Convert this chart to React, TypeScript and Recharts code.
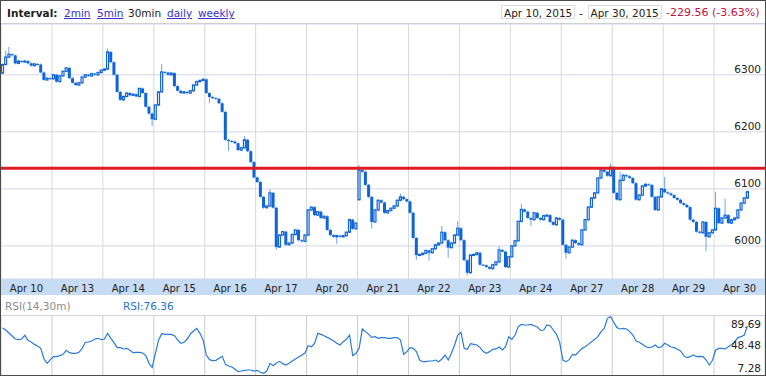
import React from "react";
import {
  ComposedChart,
  LineChart,
  Bar,
  Line,
  XAxis,
  YAxis,
  CartesianGrid,
  ReferenceLine,
} from "recharts";

const dayLabels = [
  "Apr 10", "Apr 13", "Apr 14", "Apr 15", "Apr 16", "Apr 17", "Apr 20", "Apr 21",
  "Apr 22", "Apr 23", "Apr 24", "Apr 27", "Apr 28", "Apr 29", "Apr 30",
];
const barsPerDay = 16;

// 30 min closes, one list per session
const closesApr10 = [6318, 6331, 6336, 6334, 6320, 6324, 6323, 6324, 6320, 6316, 6319, 6318, 6304, 6291, 6294, 6293];
const closesApr13 = [6300, 6288, 6298, 6306, 6312, 6294, 6286, 6282, 6286, 6296, 6300, 6298, 6302, 6300, 6304, 6308];
const closesApr14 = [6310, 6340, 6322, 6300, 6270, 6256, 6262, 6268, 6264, 6266, 6262, 6276, 6268, 6244, 6232, 6222];
const closesApr15 = [6247, 6270, 6305, 6304, 6300, 6303, 6280, 6272, 6268, 6270, 6268, 6272, 6282, 6288, 6290, 6292];
const closesApr16 = [6268, 6261, 6259, 6258, 6250, 6235, 6186, 6184, 6183, 6180, 6168, 6172, 6186, 6166, 6147, 6120];
const closesApr17 = [6112, 6086, 6067, 6070, 6093, 6067, 5998, 6019, 6025, 6002, 6005, 6020, 6028, 6010, 6008, 6019];
const closesApr20 = [6063, 6068, 6054, 6060, 6049, 6052, 6028, 6019, 6016, 6018, 6016, 6018, 6024, 6046, 6030, 6040];
const closesApr21 = [6133, 6130, 6107, 6086, 6042, 6063, 6080, 6076, 6058, 6062, 6066, 6070, 6080, 6086, 6082, 6078];
const closesApr22 = [6058, 6014, 5984, 5985, 5987, 5992, 5988, 5995, 6002, 6005, 6024, 6010, 5997, 6005, 6019, 6031];
const closesApr23 = [6010, 5975, 5953, 5984, 5985, 5988, 5967, 5966, 5963, 5960, 5967, 5972, 5993, 5990, 5963, 5981];
const closesApr24 = [6000, 6009, 6043, 6064, 6060, 6049, 6046, 6058, 6049, 6046, 6053, 6054, 6042, 6037, 6049, 6046];
const closesApr27 = [6002, 5988, 5998, 6010, 6005, 6002, 6028, 6046, 6068, 6084, 6093, 6119, 6133, 6130, 6123, 6138];
const closesApr28 = [6093, 6081, 6115, 6124, 6122, 6119, 6110, 6081, 6089, 6105, 6108, 6107, 6086, 6063, 6086, 6100];
const closesApr29 = [6094, 6092, 6089, 6084, 6081, 6075, 6072, 6068, 6046, 6042, 6025, 6023, 6042, 6016, 6023, 6028];
const closesApr30 = [6066, 6040, 6049, 6054, 6040, 6046, 6049, 6063, 6075, 6084, 6095];

const dayCloses = [
  closesApr10, closesApr13, closesApr14, closesApr15, closesApr16, closesApr17, closesApr20,
  closesApr21, closesApr22, closesApr23, closesApr24, closesApr27, closesApr28, closesApr29, closesApr30,
];

const firstOpen = 6303;
// bars that opened away from the previous close: [bar, open]
const gapOpens = [[112, 6081]];
// visible wicks: [bar, high, low]
const wicks = [
  [1, 6340, null], [2, 6347, null], [33, 6344, null], [47, null, 6212], [50, 6317, null],
  [65, null, 6252], [71, null, 6168], [76, 6191, null], [84, 6098, null], [86, null, 5995],
  [105, null, 6005], [112, 6140, null], [116, null, 6032], [125, 6090, null], [130, null, 5977],
  [134, null, 5976], [138, 6033, null], [140, null, 5981], [143, 6042, null], [146, null, 5950],
  [156, 5998, null], [163, 6072, null], [166, null, 6037], [177, null, 5979], [191, 6142, null],
  [194, 6128, null], [208, 6119, null], [221, null, 5993], [224, 6093, null], [227, 6081, null],
];

// RSI(14) per bar
const rsiApr10 = [73.2, 70.3, 65.9, 61.6, 57.2, 56.2, 57.2, 62.5, 55.3, 52.8, 49.4, 47.0, 43.6, 28.1, 21.8, 27.1];
const rsiApr13 = [31.5, 31.5, 33.0, 34.9, 40.7, 37.3, 36.4, 36.4, 37.8, 43.6, 52.4, 52.8, 54.3, 57.2, 58.2, 56.2];
const rsiApr14 = [57.2, 65.5, 58.2, 51.9, 44.6, 44.6, 42.7, 43.6, 40.7, 37.3, 37.8, 37.8, 36.8, 33.0, 21.8, 16.0];
const rsiApr15 = [36.4, 55.7, 65.0, 64.0, 64.0, 64.0, 62.0, 55.7, 50.9, 52.4, 57.2, 64.5, 68.8, 72.7, 65.5, 55.7];
const rsiApr16 = [33.9, 27.1, 25.7, 26.2, 29.1, 32.0, 20.3, 17.9, 16.5, 13.6, 9.7, 10.6, 11.6, 12.1, 12.1, 10.6];
const rsiApr17 = [11.6, 8.7, 7.28, 10.6, 21.8, 18.4, 22.3, 24.7, 21.3, 19.4, 21.8, 25.2, 28.1, 31.0, 33.9, 36.8];
const rsiApr20 = [47.5, 46.0, 50.9, 65.5, 64.0, 62.0, 59.6, 57.2, 54.3, 50.9, 48.5, 53.3, 56.7, 63.0, 33.0, 36.4];
const rsiApr21 = [43.6, 71.8, 67.9, 64.0, 59.6, 60.6, 58.2, 59.2, 59.2, 58.2, 58.2, 59.2, 59.2, 55.7, 34.9, 38.8];
const rsiApr22 = [44.6, 43.6, 38.8, 26.6, 24.2, 24.2, 25.2, 25.2, 26.6, 24.2, 28.1, 33.9, 26.6, 36.4, 48.5, 63.0];
const rsiApr23 = [66.9, 43.6, 42.2, 50.4, 49.4, 48.5, 44.6, 38.8, 36.4, 38.8, 42.2, 42.7, 45.6, 41.2, 46.0, 60.6];
const rsiApr24 = [56.7, 63.0, 75.2, 78.5, 77.6, 77.6, 78.5, 76.6, 74.7, 69.8, 70.3, 77.6, 76.6, 70.3, 64.0, 52.4];
const rsiApr27 = [26.6, 24.2, 27.1, 34.9, 33.9, 38.8, 43.6, 46.0, 49.4, 53.3, 56.7, 60.6, 67.9, 72.7, 87.3, 89.69];
const rsiApr28 = [81.5, 73.7, 71.8, 72.7, 71.8, 67.9, 63.0, 54.3, 52.4, 49.4, 46.0, 44.6, 45.6, 48.5, 44.6, 46.0];
const rsiApr29 = [50.9, 48.5, 45.6, 44.6, 42.2, 39.7, 33.0, 30.0, 31.5, 33.9, 31.5, 32.0, 31.5, 26.6, 19.4, 26.2];
const rsiApr30 = [41.2, 43.6, 43.6, 42.7, 46.0, 49.4, 53.3, 59.2, 60.6, 63.0, 76.36];

const dayRsi = [
  rsiApr10, rsiApr13, rsiApr14, rsiApr15, rsiApr16, rsiApr17, rsiApr20,
  rsiApr21, rsiApr22, rsiApr23, rsiApr24, rsiApr27, rsiApr28, rsiApr29, rsiApr30,
];

const priceTicks = [6000, 6100, 6200, 6300];
const priceDomain = [5942, 6389];
const resistance = 6136;
const rsiTicks = [7.28, 48.48, 89.69];
const rsiDomain = [4.8, 90.7];

const BLUE = "#0f64d8";
const WICK = "#6fa4ea";
const FONT = "'DejaVu Sans', Verdana, sans-serif";

const slots = dayLabels.length * barsPerDay;
const dayStartSlots = dayLabels.map((_, d) => d * barsPerDay);
const dayMidSlots = dayLabels.map((_, d) => (d + 0.5) * barsPerDay);

type Row = { i: number; t: number; o?: number; h?: number; l?: number; c?: number; r?: number };
const rows: Row[] = [];
let prevClose = firstOpen;
dayCloses.forEach((day, d) => {
  for (let s = 0; s < barsPerDay; s++) {
    const i = d * barsPerDay + s;
    const c = day[s];
    if (c === undefined) {
      rows.push({ i, t: i + 0.5 });
      continue;
    }
    const gap = gapOpens.find((g) => g[0] === i);
    const o = gap ? gap[1] : prevClose;
    const w = wicks.find((k) => k[0] === i);
    const hi = w && w[1] != null ? (w[1] as number) : -Infinity;
    const lo = w && w[2] != null ? (w[2] as number) : Infinity;
    rows.push({ i, t: i + 0.5, o, c, h: Math.max(o, c, hi), l: Math.min(o, c, lo), r: dayRsi[d][s] });
    prevClose = c;
  }
});
const rsiRows = rows.filter((r) => r.r !== undefined);
const lastRsi = rsiRows[rsiRows.length - 1].r as number;

function Candle(props: any) {
  const { x, y, width, height, payload } = props;
  if (!payload || payload.c == null) return null;
  const { o, h, l, c } = payload;
  const cx = x + width / 2;
  const span = h - l;
  const py = (v: number) => (span > 0 ? y + ((h - v) / span) * height : y);
  const top = py(Math.max(o, c));
  const bot = py(Math.min(o, c));
  const body = Math.max(bot - top, 1);
  return (
    <g>
      <line x1={cx} x2={cx} y1={y - 1} y2={y + height + 1} stroke={WICK} strokeWidth={1} />
      {c >= o ? (
        <rect x={cx - 1} y={top} width={2} height={body} fill="#fff" stroke={BLUE} strokeWidth={1.2} />
      ) : (
        <rect x={cx - 1.5} y={top} width={3} height={body} fill={BLUE} />
      )}
    </g>
  );
}

const textStyle: React.CSSProperties = {
  position: "absolute",
  fontFamily: FONT,
  fontSize: 10.5,
  lineHeight: "12px",
  whiteSpace: "nowrap",
  color: "#222",
};
const linkStyle: React.CSSProperties = { ...textStyle, color: "#3333cc", textDecoration: "underline" };
const boxStyle: React.CSSProperties = {
  position: "absolute",
  top: 4,
  width: 74,
  height: 14,
  boxSizing: "border-box",
  border: "1px solid #dcdcdc",
};

export default function App() {
  return (
    <div
      style={{
        position: "absolute",
        left: 0,
        top: 0,
        width: 766,
        height: 376,
        boxSizing: "border-box",
        border: "1px solid #4a4a4a",
        background: "#fff",
        overflow: "hidden",
      }}
    >
      {/* toolbar */}
      <div style={{ position: "absolute", left: 0, top: 0, width: 764, height: 22, borderBottom: "1px solid #cfcfcf" }} />
      <span style={{ ...textStyle, left: 6, top: 6, fontWeight: "bold" }}>Interval:</span>
      <span style={{ ...linkStyle, left: 63, top: 6 }}>2min</span>
      <span style={{ ...linkStyle, left: 96, top: 6 }}>5min</span>
      <span style={{ ...textStyle, left: 127, top: 6 }}>30min</span>
      <span style={{ ...linkStyle, left: 166, top: 6 }}>daily</span>
      <span style={{ ...linkStyle, left: 197, top: 6 }}>weekly</span>
      <div style={{ ...boxStyle, left: 500 }} />
      <span style={{ ...textStyle, left: 503, top: 6 }}>Apr 10, 2015</span>
      <span style={{ ...textStyle, left: 578, top: 6 }}>-</span>
      <div style={{ ...boxStyle, left: 587 }} />
      <span style={{ ...textStyle, left: 589.5, top: 6 }}>Apr 30, 2015</span>
      <span style={{ ...textStyle, left: 665, top: 6, color: "#c8103c", fontSize: 11 }}>-229.56 (-3.63%)</span>

      {/* date band behind the x axis */}
      <div style={{ position: "absolute", left: 0, top: 278, width: 764, height: 16, background: "#c6dbf4" }} />

      <div style={{ position: "absolute", left: 0, top: 23 }}>
        <ComposedChart
          width={764}
          height={271}
          data={rows}
          margin={{ top: 0, right: 0, bottom: 0, left: 0 }}
          barCategoryGap={0}
          barGap={0}
        >
          <XAxis
            dataKey="t"
            type="number"
            domain={[0, slots]}
            ticks={dayStartSlots}
            interval={0}
            height={0}
            tickSize={0}
            tickMargin={0}
            axisLine={false}
            allowDataOverflow
            tick={(p: any) => <line x1={p.x} x2={p.x} y1={p.y - 4} y2={p.y} stroke="#111" strokeWidth={1} />}
          />
          <XAxis
            xAxisId="lab"
            dataKey="t"
            type="number"
            domain={[0, slots]}
            ticks={dayMidSlots}
            interval={0}
            height={16}
            tickSize={0}
            tickMargin={0}
            axisLine={false}
            allowDataOverflow
            tick={(p: any) => (
              <text x={p.x} y={p.y + 12.5} textAnchor="middle" fontSize={10} fontFamily={FONT} fill="#222">
                {dayLabels[Math.floor(p.payload.value / barsPerDay)]}
              </text>
            )}
          />
          <XAxis xAxisId="i" dataKey="i" type="category" hide height={0} />
          <YAxis
            type="number"
            domain={priceDomain}
            ticks={priceTicks}
            interval={0}
            orientation="right"
            mirror
            tickSize={0}
            tickMargin={4}
            axisLine={false}
            allowDataOverflow
            tick={(p: any) => (
              <text x={p.x} y={p.y - 1.5} textAnchor="end" fontSize={10.5} fontFamily={FONT} fill="#222">
                {p.payload.value}
              </text>
            )}
          />
          <CartesianGrid horizontal={false} stroke="#d6dad6" />
          <CartesianGrid vertical={false} stroke="#d5d5ea" />
          <Bar
            xAxisId="i"
            dataKey={(d: Row) => (d.c == null ? null : [d.l, d.h])}
            shape={<Candle />}
            isAnimationActive={false}
          />
          <ReferenceLine y={resistance} stroke="#e11b22" strokeWidth={3} />
        </ComposedChart>
      </div>

      {/* RSI header */}
      <span style={{ ...textStyle, left: 4, top: 298.5, color: "#8c8c8c" }}>RSI(14,30m)</span>
      <span style={{ ...textStyle, left: 122, top: 298.5, color: "#1f72d4" }}>RSI:{lastRsi.toFixed(2)}</span>
      <div style={{ position: "absolute", left: 0, top: 314, width: 764, height: 1, background: "#d3d3e6" }} />

      <div style={{ position: "absolute", left: 0, top: 315 }}>
        <LineChart width={764} height={59} data={rsiRows} margin={{ top: 0, right: 0, bottom: 0, left: 0 }}>
          <XAxis
            dataKey="t"
            type="number"
            orientation="top"
            domain={[0, slots]}
            ticks={dayStartSlots}
            interval={0}
            height={0}
            tickSize={0}
            tickMargin={0}
            axisLine={false}
            allowDataOverflow
            tick={(p: any) => <line x1={p.x} x2={p.x} y1={p.y} y2={p.y + 4} stroke="#777" strokeWidth={1} />}
          />
          <YAxis
            type="number"
            domain={rsiDomain}
            ticks={rsiTicks}
            interval={0}
            orientation="right"
            mirror
            tickSize={0}
            tickMargin={4}
            axisLine={false}
            allowDataOverflow
            tick={(p: any) => (
              <text
                x={p.x}
                y={p.y + [-1.6, 4.3, 11][p.index]}
                textAnchor="end"
                fontSize={10.5}
                fontFamily={FONT}
                fill="#222"
              >
                {p.payload.value.toFixed(2)}
              </text>
            )}
          />
          <CartesianGrid horizontal={false} stroke="#cccccc" />
          <Line
            dataKey="r"
            type="linear"
            stroke="#2a7ad8"
            strokeWidth={1.2}
            dot={false}
            isAnimationActive={false}
          />
        </LineChart>
      </div>
    </div>
  );
}
